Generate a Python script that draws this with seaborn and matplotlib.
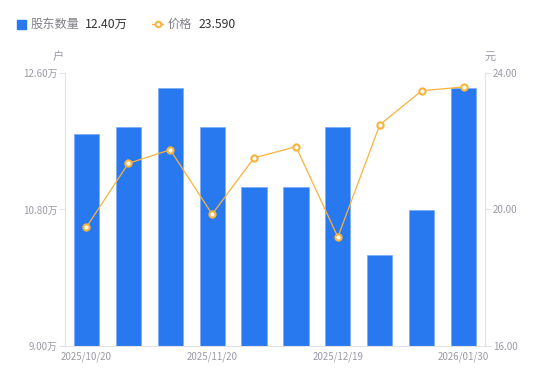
import numpy as np
import pandas as pd
import matplotlib
matplotlib.use("Agg")
import matplotlib.pyplot as plt
import seaborn as sns
from matplotlib.lines import Line2D
from matplotlib.patches import Rectangle

# 数据
dates = ["2025/10/20", "2025/10/31", "2025/11/10", "2025/11/20", "2025/11/28",
         "2025/12/10", "2025/12/19", "2025/12/31", "2026/01/20", "2026/01/30"]
holders = [11.80, 11.89, 12.40, 11.89, 11.10, 11.10, 11.89, 10.20, 10.79, 12.40]  # 万户
price = [19.48, 21.35, 21.75, 19.86, 21.51, 21.84, 19.19, 22.48, 23.48, 23.59]

left_ticks = [9.00, 10.80, 12.60]
right_ticks = [16.00, 20.00, 24.00]

bar_color = "#2878f0"
line_color = "#f9b33a"
text_gray = "#9a9aa6"
axis_gray = "#e3e3e6"

sns.set_theme(style="white")
plt.rcParams["font.family"] = ["Noto Sans CJK SC", "DejaVu Sans"]
plt.rcParams["axes.unicode_minus"] = False

df = pd.DataFrame({"日期": dates, "股东数量": holders, "价格": price})

fig = plt.figure(figsize=(5.5, 3.81), dpi=100)
ax = fig.add_axes([0.119, 0.092, 0.762, 0.7165])

sns.barplot(data=df, x="日期", y="股东数量", color=bar_color, saturation=1,
            width=0.6, edgecolor="#7aa9f5", linewidth=0.5, ax=ax)
ax.set_ylim(9.0, 12.6)
ax.set_yticks(left_ticks)
ax.set_yticklabels([f"{v:.2f}万" for v in left_ticks])
ax.set_xticks(range(0, len(dates), 3))
ax.set_xticklabels([dates[i] for i in range(0, len(dates), 3)])
ax.set_xlabel("")
ax.set_ylabel("")

ax2 = ax.twinx()
sns.lineplot(x=np.arange(len(dates)), y=price, color=line_color, linewidth=0.9,
             marker="o", markersize=4.5, markerfacecolor="white",
             markeredgecolor=line_color, markeredgewidth=1.5, ax=ax2)
ax2.set_ylim(16, 24)
ax2.set_yticks(right_ticks)
ax2.set_yticklabels([f"{v:.2f}" for v in right_ticks])
ax2.set_xlim(-0.5, len(dates) - 0.5)

for a in (ax, ax2):
    for s in a.spines.values():
        s.set_visible(False)
    a.grid(False)
    a.tick_params(axis="y", colors=axis_gray, labelcolor=text_gray, labelsize=7,
                  length=4, width=0.8, pad=2)
    a.tick_params(axis="x", length=0, labelcolor=text_gray, labelsize=7, pad=4)
ax.spines["left"].set_visible(True)
ax.spines["bottom"].set_visible(True)
ax2.spines["right"].set_visible(True)
for s in (ax.spines["left"], ax.spines["bottom"], ax2.spines["right"]):
    s.set_color(axis_gray)
    s.set_linewidth(0.8)

# 单位
fig.text(58 / 550, 1 - 57 / 381, "户", color=text_gray, fontsize=8, ha="center", va="center")
fig.text(490 / 550, 1 - 57 / 381, "元", color=text_gray, fontsize=8, ha="center", va="center")

# 图例
fig.patches.append(Rectangle((17 / 550, 1 - 28.5 / 381), 8.5 / 550, 8.5 / 381,
                             transform=fig.transFigure, color=bar_color, figure=fig))
fig.text(31 / 550, 1 - 24 / 381, "股东数量", color="#80808c", fontsize=8.8, va="center")
fig.text(85 / 550, 1 - 24 / 381, f"{holders[-1]:.2f}万", color="#333333", fontsize=8.8, va="center")
leg_line = Line2D([152 / 550, 163 / 550, 157.5 / 550], [1 - 24 / 381] * 3,
                  transform=fig.transFigure, color=line_color, linewidth=1,
                  marker="o", markersize=4, markevery=[2], markerfacecolor="white",
                  markeredgecolor=line_color, markeredgewidth=1.4)
fig.lines.append(leg_line)
fig.text(168 / 550, 1 - 24 / 381, "价格", color="#80808c", fontsize=8.8, va="center")
fig.text(199 / 550, 1 - 24 / 381, f"{price[-1]:.3f}", color="#333333", fontsize=8.8, va="center")

fig.savefig("out.png", dpi=100)
